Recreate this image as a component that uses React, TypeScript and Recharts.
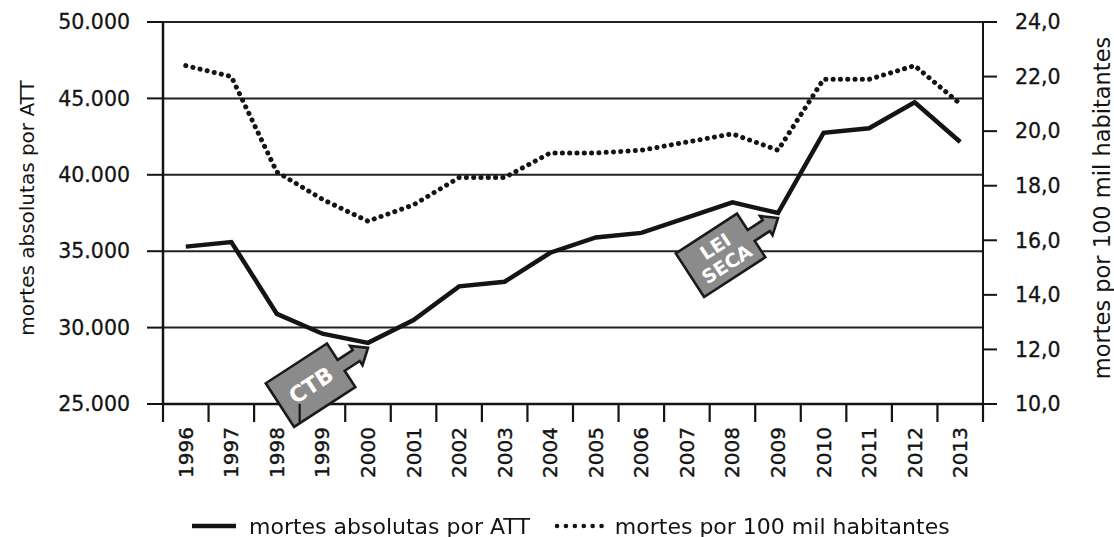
import React from "react"
import { LineChart, Line, XAxis, YAxis, CartesianGrid, ReferenceDot } from "recharts"

// anos no eixo x
const years = [
  "1996", "1997", "1998", "1999", "2000", "2001", "2002", "2003", "2004",
  "2005", "2006", "2007", "2008", "2009", "2010", "2011", "2012", "2013",
]

// mortes absolutas por ATT (eixo esquerdo)
const mortesAbsolutas = [
  35300, 35600, 30900, 29600, 29000, 30500, 32700, 33000, 34900,
  35900, 36200, 37200, 38200, 37500, 42750, 43050, 44750, 42150,
]

// mortes por 100 mil habitantes (eixo direito)
const mortesPor100mil = [
  22.4, 22.0, 18.5, 17.5, 16.7, 17.3, 18.3, 18.3, 19.2,
  19.2, 19.3, 19.6, 19.9, 19.3, 21.9, 21.9, 22.4, 21.0,
]

const leftTicks = [25000, 30000, 35000, 40000, 45000, 50000]
const rightTicks = [10, 12, 14, 16, 18, 20, 22, 24]

const seriesNames = ["mortes absolutas por ATT", "mortes por 100 mil habitantes"]

const data = years.map((year, i) => ({
  year,
  absolutas: mortesAbsolutas[i],
  taxa: mortesPor100mil[i],
}))

const FONT = "'DejaVu Sans', Verdana, sans-serif"
const INK = "#141414"

const fmtThousands = (v: number) => String(v).replace(/\B(?=(\d{3})+(?!\d))/g, ".")
const fmtRate = (v: number) => v.toFixed(1).replace(".", ",")

function YearTick(props: any) {
  const { x, y, payload, index } = props
  const half = payload?.offset || 22.8
  return (
    <g>
      <line x1={x - half} x2={x - half} y1={y} y2={y + 18} stroke={INK} strokeWidth={2.2} />
      {index === years.length - 1 && (
        <line x1={x + half} x2={x + half} y1={y} y2={y + 18} stroke={INK} strokeWidth={2.2} />
      )}
      <text
        transform={`translate(${x},${y + 23}) rotate(-90)`}
        textAnchor="end"
        dominantBaseline="central"
        fontSize={20}
        fontFamily={FONT}
        fill={INK}
        stroke={INK}
        strokeWidth={0.4}
      >
        {payload.value}
      </text>
    </g>
  )
}

// caixa cinza com seta apontando para o ponto
function ArrowTag(props: any) {
  const { cx, cy, lines } = props
  if (cx == null || cy == null) return null
  const lh = 21
  return (
    <g transform={`translate(${cx},${cy + 5}) rotate(-33)`}>
      <path
        d="M0,0 L-14,-11.5 L-14,-6.5 L-32,-6.5 L-32,-26 L-105,-26 L-105,26 L-32,26 L-32,6.5 L-14,6.5 L-14,11.5 Z"
        fill="#8b8b8b"
        stroke="#1a1a1a"
        strokeWidth={2.6}
      />
      <text
        x={-68}
        y={0}
        textAnchor="middle"
        dominantBaseline="central"
        fill="#ffffff"
        fontWeight="bold"
        fontSize={lines.length > 1 ? 19 : 22}
        fontFamily={FONT}
      >
        {lines.map((l: string, i: number) => (
          <tspan key={l} x={-68} y={(i - (lines.length - 1) / 2) * lh}>
            {l}
          </tspan>
        ))}
      </text>
    </g>
  )
}

function AxisTitle({ viewBox, value, dx, size }: any) {
  const { x, y, height } = viewBox
  const cx = x + dx
  const cy = y + height / 2 - 5
  return (
    <text
      transform={`translate(${cx},${cy}) rotate(-90)`}
      textAnchor="middle"
      dominantBaseline="central"
      fontSize={size}
      fontFamily={FONT}
      fill={INK}
    >
      {value}
    </text>
  )
}

export default function App() {
  const i2000 = years.indexOf("2000")
  const i2009 = years.indexOf("2009")
  return (
    <div style={{ position: "fixed", left: 0, top: 0, width: 1114, height: 537, background: "#fff" }}>
      <LineChart width={1114} height={537} data={data} margin={{ top: 22, right: 31, bottom: 53, left: 63 }}>
        <CartesianGrid yAxisId="left" vertical={false} stroke="#222" strokeWidth={2} />
        <XAxis
          dataKey="year"
          scale="band"
          height={80}
          tickLine={false}
          tickSize={0}
          tickMargin={0}
          interval={0}
          axisLine={{ stroke: INK, strokeWidth: 2.5 }}
          tick={<YearTick />}
        />
        <YAxis
          yAxisId="left"
          orientation="left"
          width={100}
          domain={[25000, 50000]}
          ticks={leftTicks}
          tickFormatter={fmtThousands}
          tickSize={16}
          tickMargin={17}
          tickLine={{ stroke: INK, strokeWidth: 2 }}
          axisLine={{ stroke: INK, strokeWidth: 2.5 }}
          tick={{ fontSize: 20.5, fontFamily: FONT, fill: INK, stroke: INK, strokeWidth: 0.3 }}
          label={{ content: (p: any) => <AxisTitle {...p} value={seriesNames[0]} dx={-36} size={20} /> }}
        />
        <YAxis
          yAxisId="right"
          orientation="right"
          width={100}
          domain={[10, 24]}
          ticks={rightTicks}
          tickFormatter={fmtRate}
          tickSize={14}
          tickMargin={18}
          tickLine={{ stroke: INK, strokeWidth: 2 }}
          axisLine={{ stroke: INK, strokeWidth: 2 }}
          tick={{ fontSize: 20.5, fontFamily: FONT, fill: INK, stroke: INK, strokeWidth: 0.3, textAnchor: "start" }}
          label={{ content: (p: any) => <AxisTitle {...p} value={seriesNames[1]} dx={119} size={22.5} /> }}
        />
        <Line
          yAxisId="right"
          type="linear"
          dataKey="taxa"
          name={seriesNames[1]}
          stroke={INK}
          strokeWidth={5}
          strokeDasharray="0.1 7.2"
          strokeLinecap="round"
          dot={false}
          activeDot={false}
          isAnimationActive={false}
        />
        <Line
          yAxisId="left"
          type="linear"
          dataKey="absolutas"
          name={seriesNames[0]}
          stroke={INK}
          strokeWidth={4.5}
          strokeLinejoin="miter"
          dot={false}
          activeDot={false}
          isAnimationActive={false}
        />
        <ReferenceDot
          yAxisId="left"
          x={years[i2000]}
          y={mortesAbsolutas[i2000]}
          shape={(p: any) => <ArrowTag {...p} lines={["CTB"]} />}
        />
        <ReferenceDot
          yAxisId="left"
          x={years[i2009]}
          y={mortesAbsolutas[i2009]}
          shape={(p: any) => <ArrowTag {...p} lines={["LEI", "SECA"]} />}
        />
      </LineChart>
      <div
        style={{
          position: "absolute",
          left: 192,
          top: 511,
          height: 30,
          display: "flex",
          alignItems: "center",
          fontFamily: FONT,
          fontSize: 22,
          color: INK,
          whiteSpace: "nowrap",
        }}
      >
        <svg width={44} height={10} style={{ marginRight: 13 }}>
          <line x1={0} x2={44} y1={5} y2={5} stroke={INK} strokeWidth={4.5} />
        </svg>
        <span>{seriesNames[0]}</span>
        <svg width={52} height={10} style={{ marginLeft: 24, marginRight: 9 }}>
          <line x1={3} x2={50} y1={5} y2={5} stroke={INK} strokeWidth={4.5} strokeDasharray="0.1 8.8" strokeLinecap="round" />
        </svg>
        <span>{seriesNames[1]}</span>
      </div>
    </div>
  )
}
